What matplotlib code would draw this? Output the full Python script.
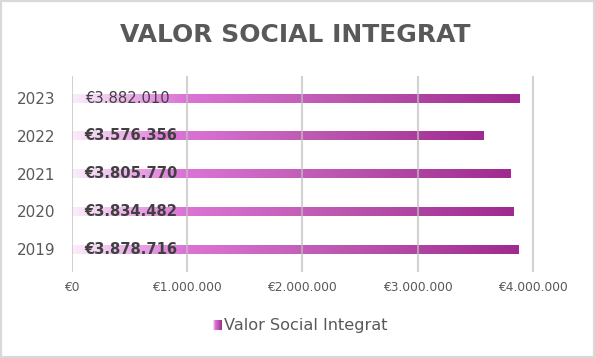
import numpy as np
import matplotlib
matplotlib.use('Agg')
import matplotlib.pyplot as plt
from matplotlib.colors import LinearSegmentedColormap
from matplotlib.patches import Rectangle
from matplotlib.ticker import FuncFormatter

years = ['2019', '2020', '2021', '2022', '2023']
values = [3878716, 3834482, 3805770, 3576356, 3882010]
labels = ['€3.878.716', '€3.834.482', '€3.805.770', '€3.576.356', '€3.882.010']
label_bold = [True, True, True, True, False]
title = 'VALOR SOCIAL INTEGRAT'
series_name = 'Valor Social Integrat'

grad = LinearSegmentedColormap.from_list('vsi', [
    (0.0, '#fbeefb'),
    (0.25, '#dc74d6'),
    (0.6, '#bc58b0'),
    (1.0, '#a02a90'),
])


def euro(x, pos):
    if x == 0:
        return '€0'
    return '€' + '{:,.0f}'.format(x).replace(',', '.')


fig = plt.figure(figsize=(5.95, 3.58), dpi=100)
ax = fig.add_axes([0.121, 0.241, 0.813, 0.548])

fig.patches.append(Rectangle((0.002, 0.003), 0.996, 0.994, transform=fig.transFigure,
                             fill=False, edgecolor='#d9d9d9', linewidth=1.6))

ypos = np.arange(len(years))
height = 0.24
gradient = np.linspace(0, 1, 256).reshape(1, -1)
for y, v in zip(ypos, values):
    bar = ax.barh(y, v, height=height, color='none', zorder=1)[0]
    im = ax.imshow(gradient, cmap=grad, aspect='auto', zorder=1,
                   extent=[0, v, y - height / 2, y + height / 2])
    im.set_clip_path(bar)

for y, lab, bold in zip(ypos, labels, label_bold):
    ax.text(110000, y, lab, va='center', ha='left', fontsize=10.6,
            fontweight='bold' if bold else 'normal', color='#404040',
            family='DejaVu Sans', zorder=4)

ax.set_xlim(0, 4200000)
ax.set_ylim(-0.6, 4.6)
ax.set_xticks([0, 1000000, 2000000, 3000000, 4000000])
ax.xaxis.set_major_formatter(FuncFormatter(euro))
ax.set_yticks(ypos)
ax.set_yticklabels(years)
ax.grid(axis='x', color='#bfbfbf', linewidth=1.5, alpha=0.7, zorder=3)
ax.set_axisbelow(False)
for s in ax.spines.values():
    s.set_visible(False)
ax.tick_params(length=0)
ax.tick_params(axis='x', labelsize=8.8, colors='#595959', pad=7)
ax.tick_params(axis='y', labelsize=11, colors='#595959', pad=12)

fig.text(0.496, 0.903, title, ha='center', va='center', fontsize=18,
         fontweight='bold', color='#595959', family='DejaVu Sans')

# legend: gradient square and label
lax = fig.add_axes([0.358, 0.079, 0.014, 0.026])
lax.imshow(gradient, cmap=grad, aspect='auto')
lax.axis('off')
fig.text(0.376, 0.092, series_name, ha='left', va='center', fontsize=11.6,
         color='#595959', family='DejaVu Sans')

fig.savefig('out.png', dpi=100)
